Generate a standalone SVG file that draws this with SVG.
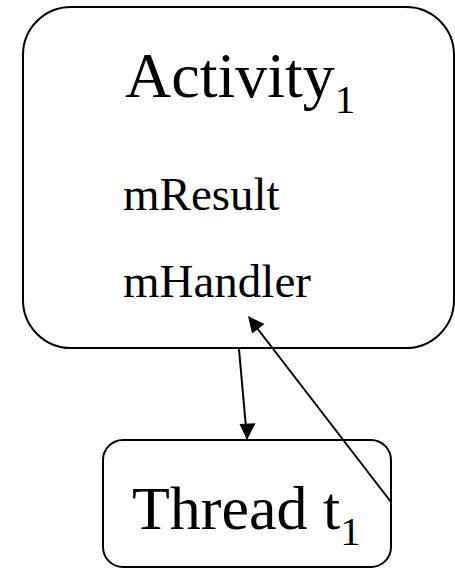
<svg xmlns="http://www.w3.org/2000/svg" width="455" height="568" viewBox="0 0 455 568">
  <style>
    .box { fill: #ffffff; stroke: #000000; stroke-width: 2; }
    .label { font-family: "Liberation Serif", "Times New Roman", serif; fill: #000000; }
    .edge { stroke: #000000; stroke-width: 2; fill: none; marker-end: url(#head); }
  </style>
  <defs>
    <marker id="head" viewBox="0 0 10 10" refX="10" refY="5" markerWidth="8" markerHeight="8" markerUnits="userSpaceOnUse" orient="auto">
      <path d="M0,0 L10,5 L0,10 z" fill="#000000"/>
    </marker>
  </defs>
  <rect width="455" height="568" fill="#ffffff"/>

  <g id="activity">
    <rect class="box" x="23" y="7" width="431" height="341" rx="48" ry="48"/>
    <text class="label" x="125" y="97" font-size="64">Activity<tspan font-size="41" dy="16">1</tspan></text>
    <text class="label" x="123" y="210" font-size="47">mResult</text>
    <text class="label" x="123" y="297" font-size="47">mHandler</text>
  </g>

  <g id="thread">
    <rect class="box" x="103" y="440" width="288" height="127" rx="20" ry="20"/>
    <text class="label" x="132" y="529" font-size="62">Thread t<tspan font-size="41" dy="16">1</tspan></text>
  </g>

  <g id="connectors">
    <line class="edge" x1="239" y1="349" x2="247" y2="439" style="marker-end:none"/>
    <path d="M247,440 L239.5,424 L255.5,423.3 z" fill="#000000"/>
    <line class="edge" x1="391" y1="502" x2="257" y2="328" style="marker-end:none"/>
    <path d="M248,316 L264.5,324 L252,333.5 z" fill="#000000"/>
  </g>
</svg>
